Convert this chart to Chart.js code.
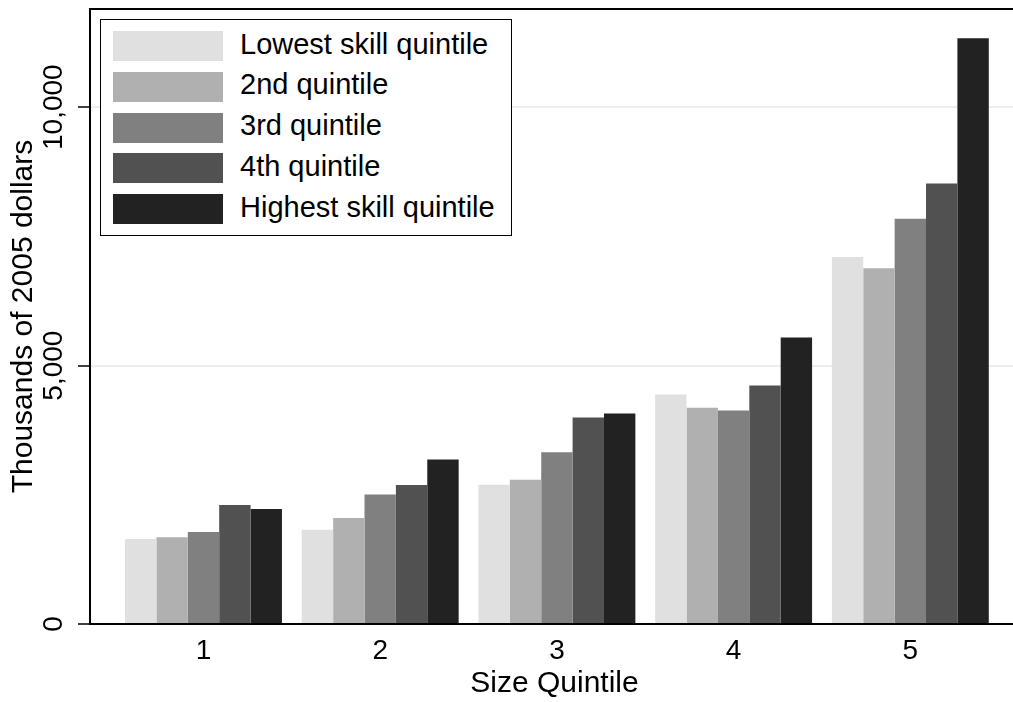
<!DOCTYPE html>
<html>
<head>
<meta charset="utf-8">
<script src="https://cdn.jsdelivr.net/npm/chart.js@4/dist/chart.umd.min.js"></script>
<style>
  html, body { margin: 0; padding: 0; background: #fff; overflow: hidden; }
  #wrap { position: relative; width: 1013px; height: 702px; overflow: hidden; }
  #holder { position: absolute; left: 0; top: 0; width: 1019px; height: 702px; }
  #legend {
    position: absolute; left: 100px; top: 19px; width: 410px; height: 215px;
    border: 1.5px solid #000; background: #fff;
    font-family: "Liberation Sans", Arial, sans-serif; font-size: 29px; color: #000;
  }
  .row { position: absolute; left: 12px; height: 30px; display: flex; align-items: center; }
  .sw { width: 110px; height: 30px; margin-right: 17px; flex: none; }
  .lb { position: relative; top: -2px; white-space: nowrap; }
</style>
</head>
<body>
<div id="wrap">
  <div id="holder"><canvas id="c" width="1019" height="702"></canvas></div>
  <div id="legend"></div>
</div>
<script>
// Size quintiles on the x axis
const categories = [1, 2, 3, 4, 5];

// Mean value (thousands of 2005 dollars) by skill quintile
const lowestSkill  = [1644, 1824, 2695, 4443, 7099];
const secondSkill  = [1677, 2050, 2791, 4184, 6886];
const thirdSkill   = [1779, 2508, 3321, 4133, 7840];
const fourthSkill  = [2302, 2688, 3998, 4617, 8524];
const highestSkill = [2224, 3185, 4075, 5545, 11335];

const seriesNames = ['Lowest skill quintile', '2nd quintile', '3rd quintile', '4th quintile', 'Highest skill quintile'];
const seriesColors = ['#e0e0e0', '#b0b0b0', '#808080', '#515151', '#222222'];
const seriesValues = [lowestSkill, secondSkill, thirdSkill, fourthSkill, highestSkill];

const yTicks = [0, 5000, 10000];

const FONT = '"Liberation Sans", Arial, sans-serif';

// Top edge of the plot frame
const frameTop = {
  id: 'frameTop',
  afterDraw(chart) {
    const {ctx, chartArea} = chart;
    ctx.save();
    ctx.strokeStyle = '#000';
    ctx.lineWidth = 2;
    ctx.beginPath();
    ctx.moveTo(chartArea.left - 1, chartArea.top);
    ctx.lineTo(chart.width, chartArea.top);
    ctx.stroke();
    ctx.restore();
  }
};

const chart = new Chart(document.getElementById('c'), {
  type: 'bar',
  data: {
    labels: categories,
    datasets: seriesValues.map((vals, i) => ({
      label: seriesNames[i],
      data: vals,
      backgroundColor: seriesColors[i],
      borderWidth: 0,
      categoryPercentage: 0.888,
      barPercentage: 1.0
    }))
  },
  plugins: [frameTop],
  options: {
    responsive: false,
    animation: false,
    locale: 'en-US',
    layout: { padding: { top: 9, left: 0, right: 0, bottom: 0 } },
    plugins: {
      legend: { display: false },
      tooltip: { enabled: false }
    },
    scales: {
      x: {
        type: 'linear',
        offset: false,
        min: 0.3577,
        max: 5.615,
        afterBuildTicks(scale) { scale.ticks = categories.map(v => ({ value: v })); },
        afterFit(scale) { scale.height = 78; },
        grid: { display: false, drawTicks: false, offset: false },
        border: { display: true, color: '#000', width: 2 },
        ticks: {
          color: '#000',
          padding: 10,
          font: { family: FONT, size: 28 },
          callback: v => String(v)
        },
        title: {
          display: true,
          text: 'Size Quintile',
          color: '#000',
          font: { family: FONT, size: 30 },
          padding: { top: 0, bottom: 0 }
        }
      },
      y: {
        min: 0,
        max: 11900,
        afterBuildTicks(scale) { scale.ticks = yTicks.map(v => ({ value: v })); },
        afterFit(scale) { scale.width = 90; },
        grid: {
          color: c => (c.tick && c.tick.value === 0) ? 'rgba(0,0,0,0)' : '#e8eff0',
          lineWidth: 2,
          tickColor: '#000',
          tickWidth: 1.5,
          tickLength: 12,
          drawTicks: true
        },
        border: { display: true, color: '#000', width: 2 },
        ticks: {
          color: '#000',
          minRotation: 90,
          maxRotation: 90,
          crossAlign: 'center',
          padding: -19,
          font: { family: FONT, size: 28 },
          callback: v => v.toLocaleString('en-US')
        },
        title: {
          display: true,
          text: 'Thousands of 2005 dollars',
          color: '#000',
          font: { family: FONT, size: 30 },
          padding: { top: 6, bottom: 0 }
        }
      }
    }
  }
});

// Legend built from the chart's own datasets
const legendEl = document.getElementById('legend');
chart.data.datasets.forEach((ds, i) => {
  const row = document.createElement('div');
  row.className = 'row';
  row.style.top = (11 + i * 40.75) + 'px';
  const sw = document.createElement('div');
  sw.className = 'sw';
  sw.style.background = ds.backgroundColor;
  const lb = document.createElement('span');
  lb.className = 'lb';
  lb.textContent = ds.label;
  row.appendChild(sw);
  row.appendChild(lb);
  legendEl.appendChild(row);
});
</script>
</body>
</html>
